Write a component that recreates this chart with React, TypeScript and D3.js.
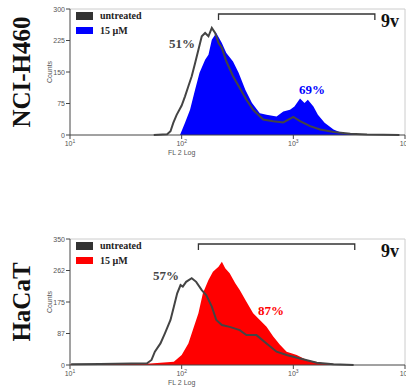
import * as d3 from 'd3';

// histogram points: [log10 of FL2, counts]
const h460Untreated: [number, number][] = [
  [1.75, 0], [1.87, 2], [1.9, 9], [1.925, 29], [1.955, 48], [2.0, 70], [2.03, 92],
  [2.06, 116], [2.09, 140], [2.12, 171], [2.15, 203], [2.18, 235], [2.21, 243],
  [2.24, 235], [2.27, 255], [2.3, 243], [2.33, 219], [2.36, 207], [2.4, 175],
  [2.46, 140], [2.52, 112], [2.58, 84], [2.64, 60], [2.73, 37], [2.82, 33],
  [2.91, 30], [3.0, 43], [3.06, 33], [3.15, 21], [3.24, 13], [3.36, 7],
  [3.51, 3], [3.66, 1], [3.95, 0],
];
const h460Treated: [number, number][] = [
  [1.985, 0], [2.03, 29], [2.075, 60], [2.12, 108], [2.16, 148], [2.21, 179],
  [2.24, 191], [2.27, 227], [2.31, 243], [2.36, 219], [2.4, 195], [2.46, 175],
  [2.51, 148], [2.57, 108], [2.63, 76], [2.7, 52], [2.76, 48], [2.85, 44],
  [2.91, 56], [2.97, 60], [3.01, 68], [3.06, 87], [3.1, 76], [3.13, 84],
  [3.18, 68], [3.22, 48], [3.28, 29], [3.36, 13], [3.45, 3], [3.66, 1], [3.92, 1], [3.95, 0],
];
const hacatUntreated: [number, number][] = [
  [1.01, 2], [1.27, 3], [1.69, 5], [1.73, 14], [1.76, 37], [1.81, 60], [1.85, 88],
  [1.9, 125], [1.93, 162], [1.96, 199], [1.99, 222], [2.01, 218], [2.04, 231],
  [2.09, 241], [2.13, 231], [2.18, 208], [2.22, 194], [2.27, 162], [2.31, 125],
  [2.36, 111], [2.43, 106], [2.52, 97], [2.58, 83], [2.67, 83], [2.76, 60],
  [2.85, 37], [2.94, 28], [3.06, 18], [3.21, 6], [3.36, 2], [3.54, 0],
];
const hacatTreated: [number, number][] = [
  [1.0, 0], [1.01, 3], [1.42, 3], [1.72, 4], [1.93, 9], [2.0, 28], [2.06, 60],
  [2.1, 97], [2.15, 144], [2.19, 199], [2.24, 236], [2.28, 259], [2.33, 273],
  [2.36, 287], [2.39, 269], [2.43, 255], [2.48, 227], [2.52, 208], [2.58, 176],
  [2.64, 144], [2.7, 125], [2.76, 106], [2.82, 79], [2.88, 56], [2.94, 37],
  [3.03, 28], [3.12, 14], [3.24, 6], [3.39, 2], [3.54, 0],
];

const h460Ticks = [0, 75, 150, 225, 300];
const h460TickLabels = ['0', '75', '150', '225', '300'];
const hacatTicks = [0, 87.5, 175, 262.5, 350];
const hacatTickLabels = ['0', '87', '175', '262', '350'];
const xDecades = [1, 2, 3, 4];

type PanelProps = {
  top: number; cell: string; yMax: number; ticks: number[]; tickLabels: string[];
  untreated: [number, number][]; treated: [number, number][]; color: string;
  gate: [number, number]; pctA: string; pctAPos: [number, number];
  pctB: string; pctBPos: [number, number];
};

const L = 70, R = 405, H = 126;
const serif = '"Liberation Serif", "DejaVu Serif", serif';
const sans = '"Liberation Sans", Arial, sans-serif';

function Panel(p: PanelProps) {
  const x = d3.scaleLinear().domain([1, 4]).range([L, R]);
  const y = d3.scaleLinear().domain([0, p.yMax]).range([p.top + H, p.top]);
  const area = d3.area<[number, number]>().x(d => x(d[0])).y0(y(0)).y1(d => y(d[1]));
  const line = d3.line<[number, number]>().x(d => x(d[0])).y(d => y(d[1]));
  const b = p.top + H;
  const gy = p.top + 5;
  return (
    <g>
      <text transform={`translate(30,${p.top + 63}) rotate(-90)`} textAnchor="middle"
        fontFamily={serif} fontWeight="bold" fontSize={25} fill="#111">{p.cell}</text>
      <text transform={`translate(52,${p.top + 63}) rotate(-90)`} textAnchor="middle"
        fontFamily={sans} fontSize={7} fill="#555">Counts</text>
      <line x1={L} x2={R} y1={p.top} y2={p.top} stroke="#ccc" />
      <line x1={R} x2={R} y1={p.top} y2={b} stroke="#ccc" />
      <path d={area(p.treated) || ''} fill={p.color} />
      <path d={line(p.untreated) || ''} fill="none" stroke="#444" strokeWidth={2} />
      <line x1={L} x2={L} y1={p.top} y2={b} stroke="#444" />
      <line x1={L} x2={R} y1={b} y2={b} stroke="#444" />
      {p.ticks.map((t, i) => (
        <g key={t}>
          <line x1={L - 4} x2={L} y1={y(t)} y2={y(t)} stroke="#444" />
          <text x={L - 5} y={y(t) + 2.5} textAnchor="end" fontFamily={sans} fontSize={7} fill="#555">{p.tickLabels[i]}</text>
        </g>
      ))}
      {xDecades.map(d => (
        <g key={d}>
          <line x1={x(d)} x2={x(d)} y1={b} y2={b + 4} stroke="#444" />
          <text x={x(d)} y={b + 11} textAnchor="middle" fontFamily={sans} fontSize={7} fill="#555">
            10<tspan dy={-3} fontSize={5}>{d}</tspan>
          </text>
        </g>
      ))}
      <text x={x(2)} y={b + 20} textAnchor="middle" fontFamily={sans} fontSize={7} fill="#555">FL 2 Log</text>
      <rect x={76} y={p.top + 3} width={17} height={8} fill="#333" />
      <rect x={76} y={p.top + 18} width={17} height={7} fill={p.color} />
      <text x={100} y={p.top + 10} fontFamily={serif} fontWeight="bold" fontSize={10} fill="#222">untreated</text>
      <text x={100} y={p.top + 25} fontFamily={serif} fontWeight="bold" fontSize={10} fill="#222">15 µM</text>
      <path d={`M${x(p.gate[0])},${gy + 6}V${gy}H${x(p.gate[1])}V${gy + 6}`} fill="none" stroke="#333" strokeWidth={1.3} />
      <text x={381} y={p.top + 18} fontFamily={serif} fontWeight="bold" fontSize={18} fill="#111">9v</text>
      <text x={p.pctAPos[0]} y={p.pctAPos[1]} fontFamily={serif} fontWeight="bold" fontSize={13} fill="#444">{p.pctA}</text>
      <text x={p.pctBPos[0]} y={p.pctBPos[1]} fontFamily={serif} fontWeight="bold" fontSize={13} fill={p.color}>{p.pctB}</text>
    </g>
  );
}

export default function App() {
  return (
    <svg width={406} height={390} style={{ position: 'absolute', left: 0, top: 0, background: '#fff' }}>
      <Panel top={9} cell="NCI-H460" yMax={300} ticks={h460Ticks} tickLabels={h460TickLabels}
        untreated={h460Untreated} treated={h460Treated} color="#0000ff"
        gate={[2.33, 3.73]} pctA="51%" pctAPos={[169, 48]} pctB="69%" pctBPos={[299, 94]} />
      <Panel top={239} cell="HaCaT" yMax={350} ticks={hacatTicks} tickLabels={hacatTickLabels}
        untreated={hacatUntreated} treated={hacatTreated} color="#ff0000"
        gate={[2.15, 3.55]} pctA="57%" pctAPos={[153, 280]} pctB="87%" pctBPos={[258, 315]} />
    </svg>
  );
}
